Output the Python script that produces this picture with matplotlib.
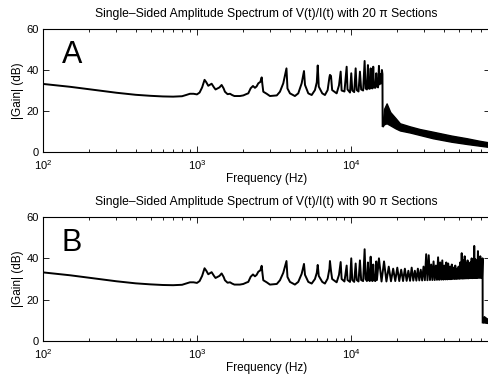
import numpy as np
import matplotlib
matplotlib.use('Agg')
import matplotlib.pyplot as plt

plt.rcParams['font.family'] = ['Liberation Sans', 'DejaVu Sans']
plt.rcParams['mathtext.fontset'] = 'custom'
plt.rcParams['mathtext.rm'] = 'Liberation Sans'
plt.rcParams['mathtext.it'] = 'Liberation Sans:italic'

# ---------------- data (Hz, dB) ----------------
low_f = [100, 150, 200, 300, 400, 500, 600, 700, 800, 850, 900, 950, 1000, 1040,
         1080, 1120, 1150, 1184, 1245, 1290, 1320, 1400, 1446, 1490, 1519, 1580,
         1640, 1690, 1750, 1900, 2000, 2100, 2154, 2233, 2311, 2380, 2440, 2502,
         2580, 2632, 2660, 2696, 2837, 2978]
low_db = [33.2, 31.8, 30.6, 28.9, 27.9, 27.4, 27.1, 27.0, 27.2, 27.8, 28.4, 28.4,
          28.1, 29.0, 31.5, 35.2, 34.0, 32.3, 33.3, 31.5, 30.5, 31.5, 32.7, 31.0,
          29.4, 28.2, 28.4, 27.8, 27.3, 27.3, 27.6, 28.3, 28.6, 31.1, 32.2, 31.3,
          32.0, 33.5, 34.2, 36.4, 33.0, 29.4, 28.4, 27.3]

mid_top_f = [3300, 3459, 3635, 3813, 3870, 4017, 4325, 4548, 4786, 4955, 5030, 5284,
             5559, 5838, 6000, 6085, 6180, 6511, 6776, 7058, 7250, 7305, 7420, 7550,
             8076, 8361, 8575, 8700, 9075, 9378, 9500, 9860, 10047, 10200, 10500,
             10730, 10900, 11200, 11440, 11650, 12000, 12270, 12450, 12700, 12890,
             13050, 13250, 13430, 13580, 13800, 13960, 14100, 14400, 14600, 14750,
             15000, 15200, 15350, 15590, 15750, 15890, 16020, 16060]
mid_top_db = [27.6, 29.4, 33.5, 40.8, 31.0, 28.6, 27.3, 28.6, 33.5, 39.5, 32.7, 28.6,
              27.8, 30.2, 34.0, 42.2, 31.9, 28.6, 27.8, 30.2, 36.5, 37.6, 37.1, 30.2,
              28.6, 32.5, 39.2, 30.0, 29.5, 41.6, 30.5, 29.0, 38.4, 30.0, 29.2,
              40.8, 30.2, 29.5, 39.2, 30.5, 30.0, 44.4, 31.0, 30.5, 42.4,
              31.0, 30.8, 40.8, 31.2, 31.0, 41.6, 31.5, 31.3, 38.4, 32.0,
              31.5, 42.0, 33.0, 38.0, 33.5, 40.0, 38.0, 12.7]

tail_top_f = [16060, 16400, 17050, 18000, 19500, 20800, 24150, 28000, 34060, 45000,
              56600, 68000, 80000]
tail_top_hi = [14.0, 21.0, 23.7, 19.5, 16.5, 14.0, 12.5, 11.2, 9.9, 8.0, 6.7, 5.5, 4.6]
tail_top_lo = [12.5, 13.5, 14.0, 13.0, 11.5, 10.5, 9.5, 8.3, 6.7, 5.0, 3.9, 3.1, 2.4]

mid_bot_f = [3300, 3459, 3635, 3813, 3870, 4017, 4325, 4548, 4786, 4955, 5030, 5284,
             5559, 5838, 6000, 6085, 6180, 6511, 6776, 7058, 7250, 7305, 7420, 7550,
             8076, 8361, 8575, 8700, 9075, 9378, 9500, 9860, 10047, 10200, 10500,
             10730, 10900, 11200, 11440, 11650, 12000, 12270, 12450, 12700, 12890,
             13050, 13250, 13430, 13580, 13800, 13960, 14100, 14400, 14600, 14750]
mid_bot_db = [27.6, 29.4, 33.0, 38.7, 31.0, 28.6, 27.3, 28.6, 32.5, 37.3, 32.0, 28.6,
              27.8, 30.0, 33.0, 36.8, 31.5, 28.6, 27.8, 30.2, 35.0, 38.7, 34.0, 30.0,
              28.4, 32.0, 38.2, 30.0, 28.8, 36.5, 29.5, 28.6, 40.0, 29.5, 28.6,
              37.5, 29.5, 28.8, 39.0, 29.5, 29.0, 44.4, 30.0, 29.0, 38.0,
              29.5, 29.0, 40.8, 29.5, 29.0, 37.0, 29.5, 29.0, 38.5, 29.5]

dense_bot_f = [15200, 15800, 16400, 17000, 17600, 18200, 18800, 19400, 20000, 20600,
               21200, 21800, 22400, 23000, 23600, 24200, 24800, 25400, 26000, 26600,
               27200, 27800, 28400, 29000, 29600, 30200, 30800, 31400, 32000, 32600,
               33200, 33800, 34400, 35000, 35600, 36200, 36800, 37400, 38000, 38600,
               39200, 39800, 40400, 41000, 41600, 42200, 42800, 43400, 44000, 44600,
               45200, 45800, 46400, 47000, 47600, 48200, 48800, 49400, 50000, 50600,
               51200, 51800, 52400, 53000, 53600, 54200, 54800, 55400, 56000, 56600,
               57200, 57800, 58400, 59000, 59600, 60200, 60800, 61400, 62000, 62600,
               63200, 63800, 64400, 65000, 65600, 66200, 66800, 67400, 68000, 68600,
               69200, 69800, 70400, 71000, 71600, 71700]
dense_bot_db = [40.0, 28.8, 38.5, 28.8, 36.0, 28.9, 35.0, 29.0, 35.5, 29.0,
                34.5, 29.0, 35.0, 29.1, 34.0, 29.1, 35.5, 29.2, 34.0, 29.2,
                35.0, 29.3, 34.5, 29.3, 36.0, 29.4, 42.0, 29.4, 41.5, 29.5,
                37.0, 29.5, 38.5, 29.5, 36.5, 29.6, 40.5, 29.6, 38.0, 29.7,
                39.0, 29.7, 36.5, 29.8, 38.0, 29.8, 37.5, 29.9, 36.0, 29.9,
                37.0, 30.0, 35.5, 30.0, 36.5, 30.0, 35.0, 30.1, 36.0, 30.1,
                38.0, 30.2, 42.5, 30.2, 39.0, 30.2, 41.0, 30.3, 37.5, 30.3,
                39.0, 30.3, 36.5, 30.4, 38.0, 30.4, 40.0, 30.4, 37.0, 30.5,
                46.0, 30.5, 39.5, 30.5, 38.0, 30.5, 43.5, 30.6, 39.0, 30.6,
                41.0, 30.6, 38.0, 30.7, 40.0, 9.0]

tail_bot_f = [71700, 73000, 76000, 80000]
tail_bot_hi = [11.5, 12.0, 11.0, 10.5]
tail_bot_lo = [9.0, 9.0, 8.8, 8.6]

titles = ['Single\u2013Sided Amplitude Spectrum of V(t)/I(t) with 20 \u03c0 Sections',
          'Single\u2013Sided Amplitude Spectrum of V(t)/I(t) with 90 \u03c0 Sections']
letters = ['A', 'B']
y_ticks = [0, 20, 40, 60]

# ---------------- figure ----------------
fig = plt.figure(figsize=(4.88, 3.78), dpi=100)
ax1 = fig.add_axes([0.0881, 0.5979, 0.916, 0.3254])
ax2 = fig.add_axes([0.0881, 0.0979, 0.916, 0.328])

LW = 1.4
ax1.plot(low_f + mid_top_f, low_db + mid_top_db, color='k', lw=LW)
ax1.fill_between(tail_top_f, tail_top_lo, tail_top_hi, color='k', lw=1.0)

ax2.plot(low_f + mid_bot_f + dense_bot_f, low_db + mid_bot_db + dense_bot_db,
         color='k', lw=LW)
ax2.fill_between(tail_bot_f, tail_bot_lo, tail_bot_hi, color='k', lw=1.0)

for ax, title, letter, hpx in [(ax1, titles[0], letters[0], 123),
                               (ax2, titles[1], letters[1], 124)]:
    ax.set_xscale('log')
    ax.set_xlim(100, 80000)
    ax.set_ylim(0, 60)
    ax.set_yticks(y_ticks)
    ax.tick_params(which='both', direction='in', top=True, right=True,
                   labelsize=8, width=0.6)
    ax.tick_params(which='major', length=4)
    ax.tick_params(which='minor', length=2.2)
    ax.tick_params(axis='x', pad=4.5)
    ax.tick_params(axis='y', pad=3)
    for s in ax.spines.values():
        s.set_linewidth(0.8)
    ax.set_xlabel('Frequency (Hz)', fontsize=8.5, labelpad=0.5)
    ax.set_ylabel('|Gain| (dB)', fontsize=8.5, labelpad=1.5)
    ax.text(0.5, 1 + 11.7 / hpx, title, transform=ax.transAxes, ha='center',
            va='baseline', fontsize=8.75)
    ax.text(0.042, 0.725, letter, transform=ax.transAxes, ha='left',
            va='baseline', fontsize=22)

fig.savefig('out.png', dpi=100)
